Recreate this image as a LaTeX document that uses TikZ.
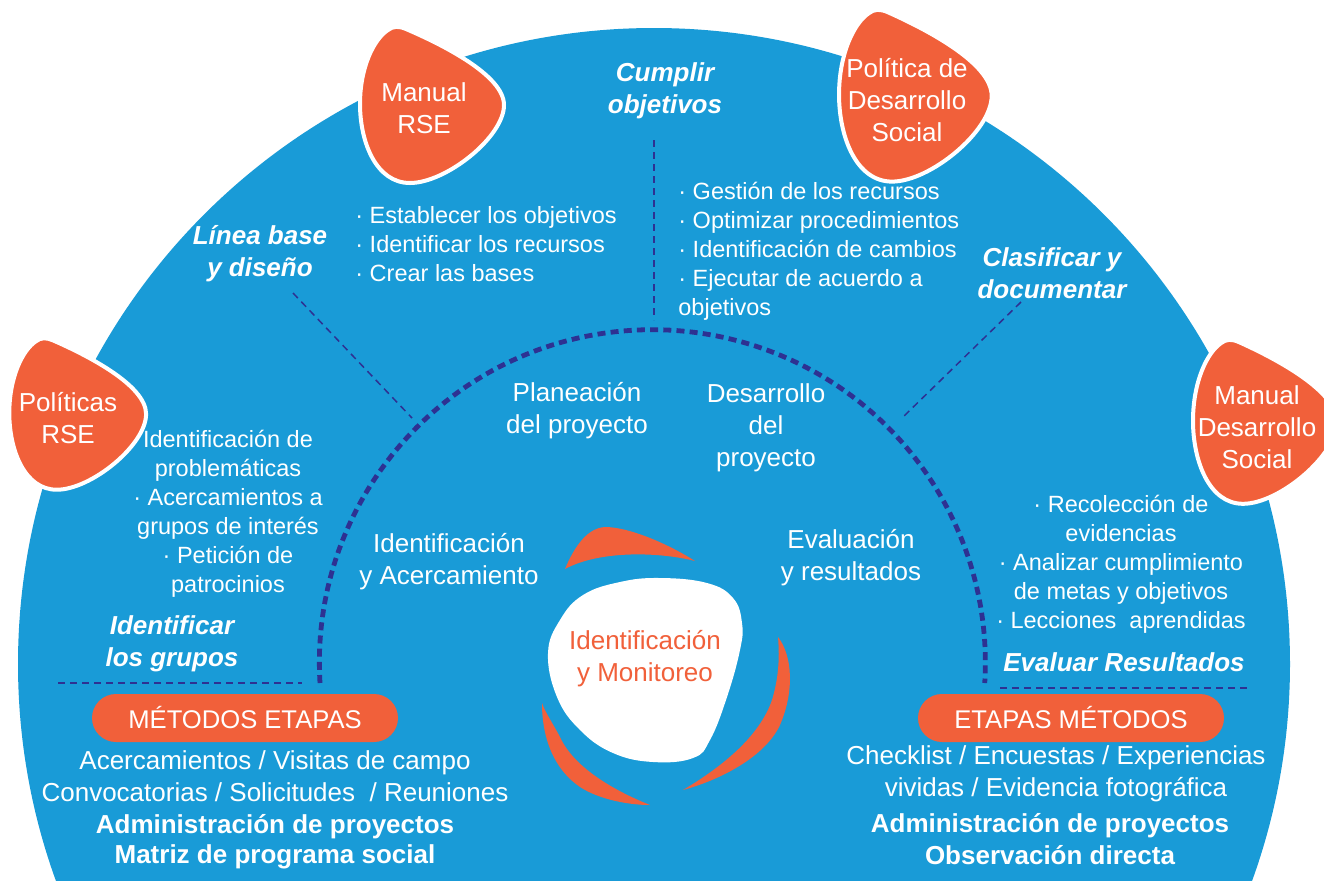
\documentclass[tikz,border=0pt]{standalone}
\usepackage{fontspec}
\setmainfont{Liberation Sans}
\usetikzlibrary{calc}
\definecolor{azul}{RGB}{25,155,215}
\definecolor{naranja}{RGB}{241,96,58}
\definecolor{marino}{RGB}{46,49,146}
\tikzstyle{lbl} = [text=white, align=center, inner sep=0pt, font=\fontsize{13}{16}\selectfont]
\tikzstyle{head} = [text=white, align=center, inner sep=0pt, font=\fontsize{13}{16}\selectfont\bfseries\itshape]
\tikzstyle{bul} = [text=white, align=left, inner sep=0pt, font=\fontsize{11.75}{14.5}\selectfont]
\tikzstyle{bulc} = [text=white, align=center, inner sep=0pt, font=\fontsize{11.75}{14.5}\selectfont]
\tikzstyle{pill} = [fill=naranja, text=white, rounded corners=12pt, minimum width=153pt, minimum height=24pt, font=\fontsize{12.8}{15}\selectfont]
\tikzstyle{petal} = [fill=naranja, draw=white, line width=2pt]
\tikzstyle{guia} = [draw=marino, line width=0.75pt, dash pattern=on 3.5pt off 2.5pt]
\tikzstyle{arco} = [draw=marino, line width=2.4pt, dash pattern=on 4pt off 2.6pt]
\newcommand{\petalo}[4]{%
\begin{scope}[shift={(#1,#2)}, xscale=#3, yscale=#4]
\draw[petal] (-66,-3) .. controls (-66,-40) and (-52,-68) .. (-38,-77)
 .. controls (-33,-81) and (-27,-81) .. (-20,-78)
 .. controls (15,-63) and (78,-32) .. (78,-2)
 .. controls (78,30) and (20,76) .. (-16,76)
 .. controls (-50,76) and (-66,35) .. (-66,-3) -- cycle;
\end{scope}}

\begin{document}
\begin{tikzpicture}[x=0.5pt,y=-0.5pt]
\useasboundingbox (0,0) rectangle (1324,880);
\clip (0,0) rectangle (1324,880);
% fondo azul
\fill[azul] (654,664) circle (636);
\draw[arco] (320,683) arc[start angle=176.5, end angle=363.5, radius=333];

% lineas guia
\coordinate (lb1) at (293,293); \coordinate (lb2) at (412,418);
\coordinate (co1) at (654,140); \coordinate (co2) at (654,320);
\coordinate (cl1) at (1021,302); \coordinate (cl2) at (903,417);
\coordinate (hi1) at (58,683); \coordinate (hi2) at (302,683);
\coordinate (hd1) at (1000,688); \coordinate (hd2) at (1247,688);
\draw[guia] (lb1) -- (lb2);
\draw[guia] (co1) -- (co2);
\draw[guia] (cl1) -- (cl2);
\draw[guia] (hi1) -- (hi2);
\draw[guia] (hd1) -- (hd2);

% petalos
\petalo{426}{107}{1}{1}
\petalo{72}{416}{0.95}{0.97}
\petalo{909}{98}{1.06}{1.1}
\petalo{1259}{424}{1}{1.05}
\node[lbl] (manual) at (424,108) {Manual\\RSE};
\node[lbl] (politicas) at (68,418) {Políticas\\RSE};
\node[lbl] (politica) at (907,100) {Política de\\Desarrollo\\Social};
\node[lbl] (manualds) at (1257,427) {Manual\\Desarrollo\\Social};

% centro
\fill[white] plot[smooth cycle, tension=0.7] coordinates {(548,653) (560,620) (583,595) (620,582) (660,578) (707,583) (733,598) (742,623) (740,650) (727,697) (710,740) (693,758) (653,762) (613,753) (580,730) (557,697)};
\fill[naranja] (565,569) .. controls (575,545) and (588,528) .. (605,527)
 .. controls (630,527) and (670,545) .. (695,561)
 .. controls (660,552) and (600,550) .. (565,569) -- cycle;
\fill[naranja] (778,637) .. controls (792,655) and (795,690) .. (780,725)
 .. controls (765,757) and (720,780) .. (683,790)
 .. controls (725,765) and (760,735) .. (772,700)
 .. controls (778,680) and (780,660) .. (778,637) -- cycle;
\fill[naranja] (542,703) .. controls (542,740) and (555,770) .. (580,787)
 .. controls (600,800) and (630,805) .. (650,805)
 .. controls (620,793) and (575,770) .. (560,737)
 .. controls (552,722) and (545,712) .. (542,703) -- cycle;
\node[lbl, text=naranja] (centro) at (645,659) {Identificación\\y Monitoreo};

% titulos
\node[head] (cumplir) at (665,91) {Cumplir\\objetivos};
\node[head] (linea) at (260,254) {Línea base\\y diseño};
\node[head] (clasificar) at (1052,273) {Clasificar y\\documentar};
\node[head] (identgr) at (172,644) {Identificar\\los grupos};
\node[head] (evalres) at (1124,662) {Evaluar Resultados};

% etapas
\node[lbl] (planeacion) at (577,411) {Planeación\\del proyecto};
\node[lbl] (desarrollo) at (766,428) {Desarrollo\\del\\proyecto};
\node[lbl] (identac) at (449,562) {Identificación\\y Acercamiento};
\node[lbl] (evaluacion) at (851,558) {Evaluación\\y resultados};

% listas
\node[bul, anchor=west] (lista1) at (355,244) {· Establecer los objetivos\\· Identificar los recursos\\· Crear las bases};
\node[bul, anchor=west] (lista2) at (678,251) {· Gestión de los recursos\\· Optimizar procedimientos\\· Identificación de cambios\\· Ejecutar de acuerdo a\\objetivos};
\node[bulc] (lista3) at (228,514) {Identificación de\\problemáticas\\· Acercamientos a\\grupos de interés\\· Petición de\\patrocinios};
\node[bulc] (lista4) at (1121,564) {· Recolección de\\evidencias\\· Analizar cumplimiento\\de metas y objetivos\\· Lecciones\ \ aprendidas};

% metodos
\node[pill] (metodos) at (245,718) {MÉTODOS ETAPAS};
\node[pill] (etapas) at (1071,718) {ETAPAS MÉTODOS};
\node[lbl] (met1) at (275,776) {Acercamientos / Visitas de campo\\Convocatorias / Solicitudes\ \ / Reuniones};
\node[lbl, font=\fontsize{13}{15}\selectfont\bfseries] (met2) at (275,842) {Administración de proyectos\\Matriz de programa social};
\node[lbl] (eta1) at (1056,774) {Checklist / Encuestas / Experiencias\\vividas / Evidencia fotográfica};
\node[lbl, font=\fontsize{13}{16}\selectfont\bfseries] (eta2) at (1050,839) {Administración de proyectos\\Observación directa};
\end{tikzpicture}
\end{document}
